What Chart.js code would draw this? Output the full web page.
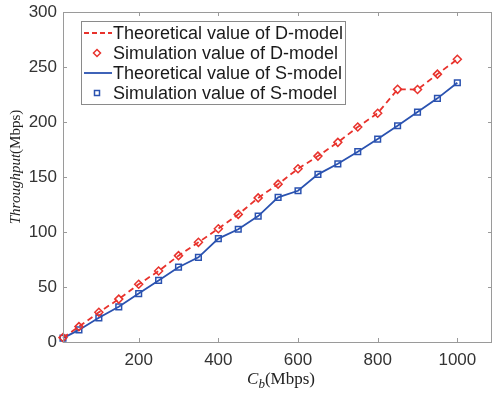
<!DOCTYPE html>
<html>
<head>
<meta charset="utf-8">
<script src="https://cdn.jsdelivr.net/npm/chart.js@4/dist/chart.umd.min.js"></script>
<style>
html,body{margin:0;padding:0;background:#fff;}
#wrap{position:relative;width:493px;height:393px;}
</style>
</head>
<body>
<div id="wrap"><canvas id="c" width="493" height="393"></canvas></div>
<script>
// ---- data ----
const xValues = [10, 50, 100, 150, 200, 250, 300, 350, 400, 450, 500, 550, 600, 650, 700, 750, 800, 850, 900, 950, 1000];
const dModel = [4, 14, 27, 39, 52.5, 64.5, 78.5, 90.6, 103, 116, 131, 143.5, 157.5, 169, 181.5, 195.5, 208, 229.7, 229.5, 243.5, 257];
const sModel = [3.5, 11, 22, 32, 44, 56, 68, 77, 94, 102.5, 114.5, 131.5, 137.5, 152.4, 162, 173, 184.5, 196.6, 209, 221.5, 235.7];
const xTicks = [200, 400, 600, 800, 1000];
const yTicks = [0, 50, 100, 150, 200, 250, 300];
const legendLabels = ['Theoretical value of D-model', 'Simulation value of D-model', 'Theoretical value of S-model', 'Simulation value of S-model'];
const xTitleMain = 'C', xTitleSub = 'b', xTitleUnit = '(Mbps)';
const yTitleMain = 'Throughput', yTitleUnit = '(Mbps)';

const RED = '#e8322c';
const BLUE = '#2a52b0';

function pts(ys){ return xValues.map((x,i)=>({x:x,y:ys[i]})); }

const decor = {
  id:'decor',
  afterDraw(chart){
    const ctx = chart.ctx, a = chart.chartArea;
    const xs = chart.scales.x, ys = chart.scales.y;
    ctx.save();
    // frame
    ctx.strokeStyle = '#9a9a9a';
    ctx.lineWidth = 1;
    ctx.strokeRect(Math.round(a.left)+0.5, Math.round(a.top)+0.5, Math.round(a.right-a.left)-1, Math.round(a.bottom-a.top));
    // inward ticks
    const tl = 4;
    ctx.beginPath();
    xTicks.forEach(v=>{
      const p = Math.round(xs.getPixelForValue(v))+0.5;
      ctx.moveTo(p, a.bottom); ctx.lineTo(p, a.bottom-tl);
      ctx.moveTo(p, a.top); ctx.lineTo(p, a.top+tl);
    });
    yTicks.forEach(v=>{
      const p = Math.round(ys.getPixelForValue(v))+0.5;
      ctx.moveTo(a.left, p); ctx.lineTo(a.left+tl, p);
      ctx.moveTo(a.right, p); ctx.lineTo(a.right-tl, p);
    });
    ctx.stroke();

    // legend
    const lx = 81, ly = 21, lw = 264, lh = 83;
    ctx.fillStyle = '#fff';
    ctx.fillRect(lx, ly, lw, lh);
    ctx.strokeStyle = '#8a8a8a';
    ctx.strokeRect(lx+0.5, ly+0.5, lw, lh);
    const rows = [33, 53, 73, 93];
    ctx.font = '18px "Liberation Sans", Arial, sans-serif';
    ctx.textBaseline = 'middle';
    ctx.textAlign = 'left';
    rows.forEach((ry,i)=>{
      if(i===0){
        ctx.strokeStyle = RED; ctx.lineWidth = 1.8; ctx.setLineDash([5,3]);
        ctx.beginPath(); ctx.moveTo(84, ry); ctx.lineTo(112, ry); ctx.stroke(); ctx.setLineDash([]);
      } else if(i===2){
        ctx.strokeStyle = BLUE; ctx.lineWidth = 1.8;
        ctx.beginPath(); ctx.moveTo(84, ry); ctx.lineTo(112, ry); ctx.stroke();
      } else if(i===1){
        ctx.lineWidth = 1.5; ctx.strokeStyle = RED;
        ctx.beginPath(); ctx.moveTo(97, ry-3.5); ctx.lineTo(100.5, ry); ctx.lineTo(97, ry+3.5); ctx.lineTo(93.5, ry); ctx.closePath(); ctx.stroke();
      } else {
        ctx.lineWidth = 1.5; ctx.strokeStyle = BLUE;
        ctx.strokeRect(94.5, ry-2.5, 5, 5);
      }
      ctx.fillStyle = '#1a1a1a';
      ctx.fillText(legendLabels[i], 113, ry+1);
    });

    // x title
    ctx.fillStyle = '#222';
    ctx.textBaseline = 'alphabetic';
    const fMainX = 'italic 17px "Liberation Serif", "Times New Roman", serif';
    const fSubX = 'italic 13px "Liberation Serif", "Times New Roman", serif';
    const fUnitX = '17px "Liberation Serif", "Times New Roman", serif';
    ctx.font = fMainX; const w1 = ctx.measureText(xTitleMain).width;
    ctx.font = fSubX; const w2 = ctx.measureText(xTitleSub).width;
    ctx.font = fUnitX; const w3 = ctx.measureText(xTitleUnit).width;
    let sx = 281 - (w1+w2+w3)/2; const by = 384;
    ctx.font = fMainX; ctx.fillText(xTitleMain, sx, by); sx += w1;
    ctx.font = fSubX; ctx.fillText(xTitleSub, sx, by+4); sx += w2;
    ctx.font = fUnitX; ctx.fillText(xTitleUnit, sx, by);

    // y title
    ctx.save();
    ctx.translate(20, 167);
    ctx.rotate(-Math.PI/2);
    const fMainY = 'italic 15px "Liberation Serif", "Times New Roman", serif';
    const fUnitY = '15px "Liberation Serif", "Times New Roman", serif';
    ctx.font = fMainY; const u1 = ctx.measureText(yTitleMain).width;
    ctx.font = fUnitY; const u2 = ctx.measureText(yTitleUnit).width;
    let tx = -(u1+u2)/2;
    ctx.font = fMainY; ctx.fillText(yTitleMain, tx, 0); tx += u1;
    ctx.font = fUnitY; ctx.fillText(yTitleUnit, tx, 0);
    ctx.restore();

    ctx.restore();
  }
};

new Chart(document.getElementById('c'), {
  type:'scatter',
  data:{
    datasets:[
      {label:legendLabels[0], data:pts(dModel), showLine:true, borderColor:RED, borderWidth:1.8, borderDash:[6,4], pointRadius:0, fill:false, clip:false},
      {label:legendLabels[1], data:pts(dModel), showLine:false, pointStyle:'rectRot', pointRadius:4, pointBorderWidth:1.5, pointBorderColor:RED, pointBackgroundColor:'rgba(0,0,0,0)', clip:false},
      {label:legendLabels[2], data:pts(sModel), showLine:true, borderColor:BLUE, borderWidth:1.8, pointRadius:0, fill:false, clip:false},
      {label:legendLabels[3], data:pts(sModel), showLine:false, pointStyle:'rect', pointRadius:4, pointBorderWidth:1.5, pointBorderColor:BLUE, pointBackgroundColor:'rgba(0,0,0,0)', clip:false}
    ]
  },
  options:{
    responsive:false,
    animation:false,
    devicePixelRatio:1,
    layout:{autoPadding:false, padding:{top:12, right:1, left:0, bottom:0}},
    plugins:{legend:{display:false}, tooltip:{enabled:false}},
    scales:{
      x:{
        type:'linear', min:10, max:1087,
        afterBuildTicks(s){ s.ticks = xTicks.map(v=>({value:v})); },
        afterFit(s){ s.height = 51; s.paddingLeft = 0; s.paddingRight = 0; },
        grid:{display:false, drawTicks:false},
        border:{display:false},
        ticks:{color:'#333', padding:8, font:{family:'"Liberation Sans", Arial, sans-serif', size:17}, maxRotation:0, callback:(v)=>String(v)}
      },
      y:{
        type:'linear', min:0, max:300,
        afterBuildTicks(s){ s.ticks = yTicks.map(v=>({value:v})); },
        afterFit(s){ s.width = 63; s.paddingTop = 0; s.paddingBottom = 0; },
        grid:{display:false, drawTicks:false},
        border:{display:false},
        ticks:{color:'#333', padding:6, font:{family:'"Liberation Sans", Arial, sans-serif', size:17}, callback:(v)=>String(v)}
      }
    }
  },
  plugins:[decor]
});
</script>
</body>
</html>
